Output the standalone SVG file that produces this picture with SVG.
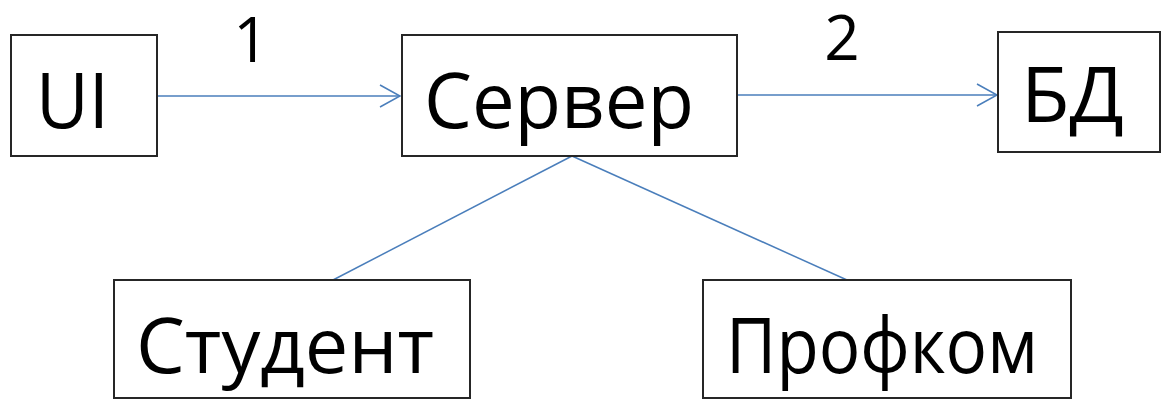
<svg xmlns="http://www.w3.org/2000/svg" width="1162" height="400" viewBox="0 0 1162 400">
<defs>
<style>
.box{fill:#fff;stroke:#262626;stroke-width:2}
.lbl{font-family:"Open Sans","Noto Sans","DejaVu Sans",sans-serif;font-size:76px;fill:#000}
.num{font-family:"Open Sans","Noto Sans","DejaVu Sans",sans-serif;font-size:62px;fill:#000;text-anchor:middle}
.conn{stroke:#4a7ebb;stroke-width:1.5;fill:none}
</style>
<marker id="arr" markerUnits="userSpaceOnUse" markerWidth="24" markerHeight="26" viewBox="-21 -12 24 24" refX="0" refY="0" orient="auto">
<path d="M-20,-11 L0,0 L-20,11" fill="none" stroke="#4a7ebb" stroke-width="1.5"/>
</marker>
</defs>
<rect width="1162" height="400" fill="#fff"/>
<g id="connectors">
<line class="conn" x1="157" y1="96" x2="400" y2="96" marker-end="url(#arr)"/>
<line class="conn" x1="737" y1="95" x2="997" y2="95" marker-end="url(#arr)"/>
<line class="conn" x1="572" y1="156" x2="333" y2="280"/>
<line class="conn" x1="572" y1="156" x2="847" y2="280"/>
<text class="num" x="251" y="62">1</text>
<text class="num" x="842" y="60">2</text>
</g>
<g id="node-ui">
<rect class="box" x="11" y="35" width="146" height="121"/>
<text class="lbl" x="36" y="128" textLength="73" lengthAdjust="spacingAndGlyphs">UI</text>
</g>
<g id="node-server">
<rect class="box" x="402" y="35" width="335" height="121"/>
<text class="lbl" x="424" y="128" textLength="270" lengthAdjust="spacingAndGlyphs">Сервер</text>
</g>
<g id="node-db">
<rect class="box" x="998" y="32" width="162" height="120"/>
<text class="lbl" x="1021" y="122" textLength="103" lengthAdjust="spacingAndGlyphs">БД</text>
</g>
<g id="node-student">
<rect class="box" x="114" y="280" width="356" height="118"/>
<text class="lbl" x="136" y="373" textLength="298" lengthAdjust="spacingAndGlyphs">Студент</text>
</g>
<g id="node-profkom">
<rect class="box" x="703" y="280" width="368" height="118"/>
<text class="lbl" x="726" y="373" textLength="312" lengthAdjust="spacingAndGlyphs">Профком</text>
</g>
</svg>
